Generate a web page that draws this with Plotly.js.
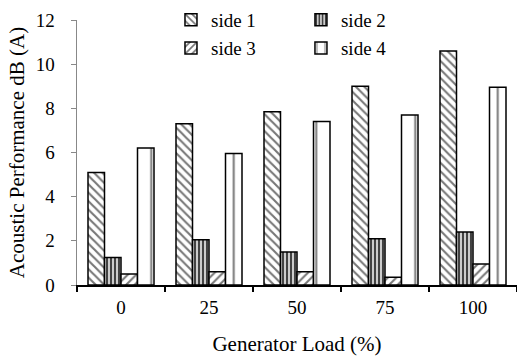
<!DOCTYPE html>
<html><head><meta charset="utf-8">
<script src="https://cdn.plot.ly/plotly-3.0.1.min.js"></script>
<style>html,body{margin:0;padding:0;background:#fff}#chart{width:517px;height:361px}</style>
</head><body><div id="chart"></div>
<script>
var categories = ['0', '25', '50', '75', '100'];
var side1 = [5.1, 7.3, 7.85, 9.0, 10.6];
var side2 = [1.25, 2.05, 1.5, 2.1, 2.4];
var side3 = [0.5, 0.6, 0.6, 0.35, 0.95];
var side4 = [6.2, 5.95, 7.4, 7.7, 8.95];
var seriesNames = ['side 1', 'side 2', 'side 3', 'side 4'];

var FONT = 'Liberation Serif, Times New Roman, serif';
function bar(name, y, pattern, legend) {
  return {type: 'bar', name: name, x: categories, y: y, legend: legend,
    marker: {color: '#ffffff', line: {color: '#000', width: 1.5}, pattern: pattern}};
}
var data = [
  bar(seriesNames[0], side1, {shape: '\\', fgcolor: '#777', bgcolor: '#fff', size: 6, solidity: 0.35}, 'legend'),
  bar(seriesNames[1], side2, {shape: '|', fgcolor: '#333', bgcolor: '#ccc', size: 4, solidity: 0.45}, 'legend2'),
  bar(seriesNames[2], side3, {shape: '/', fgcolor: '#777', bgcolor: '#fff', size: 6, solidity: 0.35}, 'legend3'),
  bar(seriesNames[3], side4, {shape: '|', fgcolor: '#777', bgcolor: '#fff', size: 16.5, solidity: 0.12}, 'legend4')
];
function lg(x, y) {
  return {x: x, y: y, xanchor: 'left', yanchor: 'middle', orientation: 'v',
    font: {family: FONT, size: 19, color: '#000'}, bgcolor: 'rgba(0,0,0,0)', itemwidth: 30};
}
var layout = {
  width: 517, height: 361,
  margin: {l: 77, r: 0, t: 20, b: 76},
  paper_bgcolor: '#fff', plot_bgcolor: '#fff',
  barmode: 'group', bargap: 0.25, bargroupgap: 0,
  font: {family: FONT, size: 19, color: '#000'},
  showlegend: true,
  legend: lg(0.2136, 1.0),
  legend2: lg(0.509, 1.0),
  legend3: lg(0.2136, 0.894),
  legend4: lg(0.509, 0.894),
  xaxis: {type: 'category', showline: true, linecolor: '#000', linewidth: 2, ticks: 'outside', tickson: 'boundaries',
    ticklen: 5, tickcolor: '#000', tickwidth: 1.5, showgrid: false, zeroline: false, ticklabelstandoff: 4,
    tickfont: {family: FONT, size: 19}, title: {text: 'Generator Load (%)', font: {family: FONT, size: 21}, standoff: 20}},
  yaxis: {range: [0, 12], dtick: 2, showline: true, linecolor: '#888', linewidth: 1.5, ticks: 'outside', ticklen: 5,
    tickcolor: '#888', showgrid: false, zeroline: false, ticklabelstandoff: 12, tickfont: {family: FONT, size: 19},
    title: {text: 'Acoustic Performance dB (A)', font: {family: FONT, size: 21}, standoff: 5}}
};
Plotly.newPlot('chart', data, layout, {displayModeBar: false, staticPlot: true});
</script></body></html>
